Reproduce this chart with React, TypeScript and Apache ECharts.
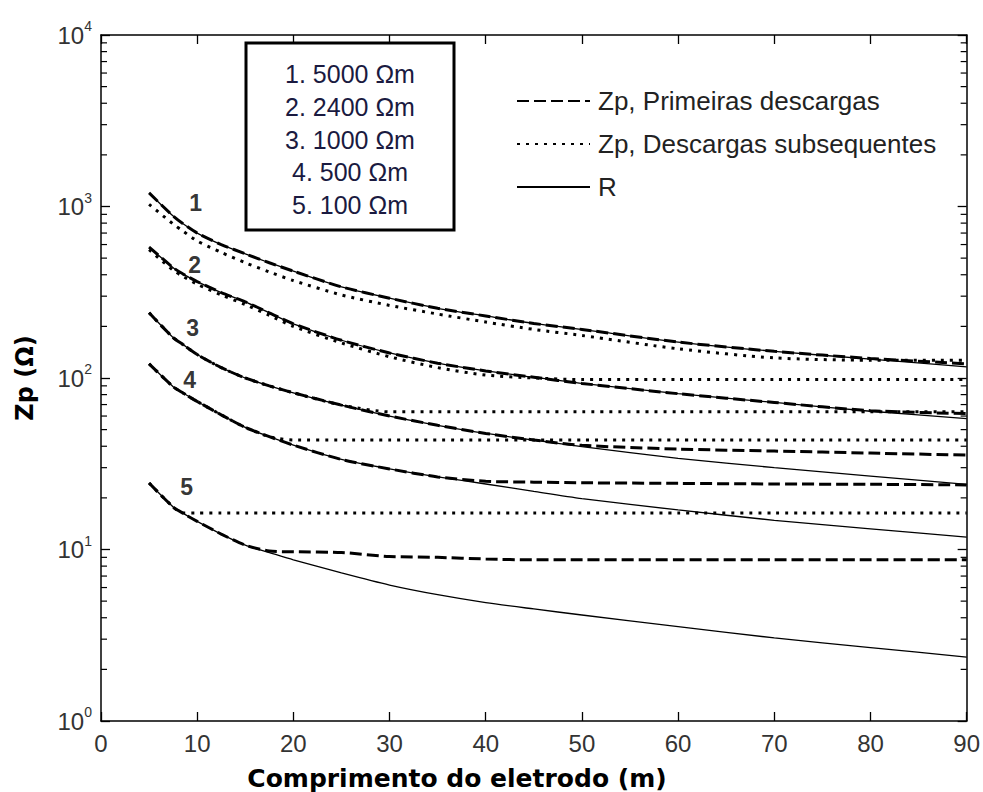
import React, { useEffect, useRef } from 'react';
import * as echarts from 'echarts';

// Electrode length (m)
const X = [5, 7.5, 8.5, 10, 12.5, 15, 17.5, 20, 25, 30, 35, 40, 45, 50, 60, 70, 80, 90];

// Curve 1: 5000 Ohm.m
const R1 = [1200, 880, 796, 700, 600, 530, 470, 420, 340, 292, 255, 230, 208, 192, 162, 143, 129, 116];
const ZF1 = [1200, 880, 796, 700, 600, 530, 470, 420, 340, 292, 255, 230, 208, 192, 162, 143, 130, 121];
const ZS1 = [1030, 790, 720, 630, 540, 470, 415, 370, 305, 265, 236, 212, 192, 177, 148, 131, 127, 127];
// Curve 2: 2400 Ohm.m
const R2 = [580, 440, 405, 365, 315, 278, 240, 207, 166, 140, 122, 110, 101, 93, 81, 72, 64, 58];
const ZF2 = [580, 440, 405, 365, 315, 278, 240, 207, 166, 140, 122, 110, 101, 93, 81, 72, 64.5, 62];
const ZS2 = [560, 425, 392, 352, 305, 268, 232, 200, 160, 133, 115, 104, 100, 98, 98, 98, 98, 98];
// Curve 3: 1000 Ohm.m
const R3 = [240, 172, 157, 137, 115, 100, 90, 82, 69.5, 60, 53, 47.5, 43.5, 39.8, 34, 30, 26.8, 24];
const ZF3 = [240, 172, 157, 137, 115, 100, 90, 82, 69.5, 60, 53, 47.5, 43.5, 40.5, 38.5, 37.5, 36.5, 35.5];
const ZS3 = [240, 172, 157, 137, 115, 100, 90, 82, 69.5, 63.5, 63.5, 63.5, 63.5, 63.5, 63.5, 63.5, 63.5, 63.5];
// Curve 4: 500 Ohm.m
const R4 = [121, 89, 82, 73, 61, 51.5, 45.5, 40.6, 33.5, 29.5, 26.5, 24.1, 21.8, 19.8, 17, 14.8, 13.2, 11.8];
const ZF4 = [121, 89, 82, 73, 61, 51.5, 45.5, 40.6, 33.5, 29.5, 26.5, 25, 24.7, 24.5, 24.3, 24.1, 24, 23.8];
const ZS4 = [121, 89, 82, 73, 61, 51.5, 45.5, 43.5, 43.5, 43.5, 43.5, 43.5, 43.5, 43.5, 43.5, 43.5, 43.5, 43.5];
// Curve 5: 100 Ohm.m
const R5 = [24.4, 17.7, 16.3, 14.6, 12.3, 10.6, 9.6, 8.7, 7.3, 6.2, 5.45, 4.9, 4.5, 4.15, 3.55, 3.05, 2.68, 2.36];
const ZF5 = [24.4, 17.7, 16.3, 14.6, 12.3, 10.6, 9.8, 9.7, 9.6, 9.1, 9.0, 8.8, 8.7, 8.7, 8.7, 8.7, 8.7, 8.7];
const ZS5 = [24.4, 17.7, 16.3, 16.3, 16.3, 16.3, 16.3, 16.3, 16.3, 16.3, 16.3, 16.3, 16.3, 16.3, 16.3, 16.3, 16.3, 16.3];

const NAME_FIRST = 'Zp, Primeiras descargas';
const NAME_SUB = 'Zp, Descargas subsequentes';
const NAME_R = 'R';

const RESISTIVITY_LABELS = ['1. 5000 Ωm', '2. 2400 Ωm', '3. 1000 Ωm', '4. 500 Ωm', '5. 100 Ωm'];

// Curve number annotations (data coords)
const CURVE_NUMS = ['1', '2', '3', '4', '5'];
const CURVE_NUM_X = [9.85, 9.74, 9.53, 9.22, 8.9];
const CURVE_NUM_Y = [1047, 456, 196, 97, 23.1];

const MINOR_MANTISSA = [2, 3, 4, 5, 6, 7, 8, 9];
const DECADES = [1, 10, 100, 1000];

export default function App() {
  const ref = useRef<HTMLDivElement>(null);
  useEffect(() => {
    const chart = echarts.init(ref.current!, null, { renderer: 'svg' });
    const solid = { color: '#000', width: 1.3, type: 'solid' };
    const dashed = { color: '#000', width: 3, type: [12, 5] };
    const dotted = { color: '#000', width: 3, type: [3, 6] };
    const mk = (name: string, data: number[], style: any) => ({
      type: 'line',
      name,
      data: X.map((x, i) => [x, data[i]]),
      symbol: 'none',
      showSymbol: false,
      smooth: 0.25,
      lineStyle: style,
      itemStyle: { color: '#000' },
      silent: true,
      xAxisIndex: 0,
      yAxisIndex: 0,
    });
    const minor: number[][] = [];
    DECADES.forEach((d) => MINOR_MANTISSA.forEach((m) => minor.push([0, m * d])));

    const font = 'Liberation Sans';
    const option: any = {
      animation: false,
      backgroundColor: '#fff',
      grid: { left: 101, right: 15, top: 35, bottom: 71, containLabel: false },
      xAxis: [
        {
          type: 'value', min: 0, max: 90, interval: 10, position: 'bottom',
          axisLine: { show: true, onZero: false, lineStyle: { color: '#000', width: 1.5 } },
          axisTick: { show: true, inside: true, length: 9, lineStyle: { color: '#000', width: 1.3 } },
          axisLabel: { show: true, margin: 10, fontSize: 24, fontFamily: font, color: '#333' },
          splitLine: { show: false },
        },
        {
          type: 'value', min: 0, max: 90, interval: 10, position: 'top',
          axisLine: { show: true, onZero: false, lineStyle: { color: '#000', width: 1.5 } },
          axisTick: { show: true, inside: true, length: 9, lineStyle: { color: '#000', width: 1.3 } },
          axisLabel: { show: false },
          splitLine: { show: false },
        },
      ],
      yAxis: [
        {
          type: 'log', logBase: 10, min: 1, max: 10000, position: 'left',
          name: 'Zp (Ω)', nameLocation: 'middle', nameGap: 64,
          nameTextStyle: { fontSize: 24, fontWeight: 'bold', fontFamily: 'DejaVu Sans', color: '#000' },
          axisLine: { show: true, onZero: false, lineStyle: { color: '#000', width: 1.5 } },
          axisTick: { show: true, inside: true, length: 9, lineStyle: { color: '#000', width: 1.3 } },
          axisLabel: {
            show: true, margin: 9,
            formatter: (v: number) => `{a|10}{b|${Math.round(Math.log10(v))}}`,
            rich: {
              a: { fontSize: 24, fontFamily: font, color: '#333', lineHeight: 32, verticalAlign: 'middle' },
              b: { fontSize: 14, fontFamily: font, color: '#333', lineHeight: 14, verticalAlign: 'top' },
            },
          },
          splitLine: { show: false },
        },
        {
          type: 'log', logBase: 10, min: 1, max: 10000, position: 'right',
          axisLine: { show: true, onZero: false, lineStyle: { color: '#000', width: 1.5 } },
          axisTick: { show: true, inside: true, length: 9, lineStyle: { color: '#000', width: 1.3 } },
          axisLabel: { show: false },
          splitLine: { show: false },
        },
      ],
      legend: {
        data: [NAME_FIRST, NAME_SUB, NAME_R],
        orient: 'vertical', left: 511, top: 83,
        itemWidth: 73, itemHeight: 14, itemGap: 17,
        selectedMode: false,
        itemStyle: { opacity: 0 },
        textStyle: { fontSize: 26, fontFamily: font, color: '#222', lineHeight: 26, padding: [0, 0, 0, 3] },
      },
      series: [
        mk(NAME_R, R1, solid), mk(NAME_R, R2, solid), mk(NAME_R, R3, solid), mk(NAME_R, R4, solid), mk(NAME_R, R5, solid),
        mk(NAME_FIRST, ZF1, dashed), mk(NAME_FIRST, ZF2, dashed), mk(NAME_FIRST, ZF3, dashed), mk(NAME_FIRST, ZF4, dashed), mk(NAME_FIRST, ZF5, dashed),
        mk(NAME_SUB, ZS1, dotted), mk(NAME_SUB, ZS2, dotted), mk(NAME_SUB, ZS3, dotted), mk(NAME_SUB, ZS4, dotted), mk(NAME_SUB, ZS5, dotted),
        {
          type: 'custom', name: 'minorTicks', coordinateSystem: 'cartesian2d', xAxisIndex: 0, yAxisIndex: 0,
          data: minor, silent: true, clip: false,
          renderItem: (params: any, api: any) => {
            const v = api.value(1);
            const l = api.coord([0, v]);
            const r = api.coord([90, v]);
            return {
              type: 'group',
              children: [
                { type: 'line', shape: { x1: l[0], y1: l[1], x2: l[0] + 6, y2: l[1] }, style: { stroke: '#000', lineWidth: 1.2 } },
                { type: 'line', shape: { x1: r[0] - 6, y1: r[1], x2: r[0], y2: r[1] }, style: { stroke: '#000', lineWidth: 1.2 } },
              ],
            };
          },
        },
        {
          type: 'scatter', name: 'curveNumbers', xAxisIndex: 0, yAxisIndex: 0, silent: true,
          symbolSize: 1, itemStyle: { color: 'rgba(0,0,0,0)' },
          data: CURVE_NUMS.map((n, i) => [CURVE_NUM_X[i], CURVE_NUM_Y[i], n]),
          label: {
            show: true, position: 'inside', formatter: (p: any) => p.data[2],
            fontSize: 23, fontWeight: 'bold', fontFamily: 'Liberation Sans', color: '#000',
          },
        },
      ],
      graphic: [
        {
          type: 'rect', shape: { x: 246, y: 43, width: 208, height: 187 },
          style: { fill: '#fff', stroke: '#000', lineWidth: 3 }, z: 10,
        },
        ...RESISTIVITY_LABELS.map((t, i) => ({
          type: 'text', x: 350, y: 74 + i * 32.8, z: 11,
          style: { text: t, fontSize: 25, fontFamily: font, fill: '#1a1a40', align: 'center', verticalAlign: 'middle' },
        })),
        {
          type: 'text', x: 457, y: 778, z: 11,
          style: { text: 'Comprimento do eletrodo (m)', fontSize: 25, fontWeight: 'bold', fontFamily: 'DejaVu Sans', fill: '#000', align: 'center', verticalAlign: 'middle' },
        },
      ],
    };
    chart.setOption(option);
    return () => chart.dispose();
  }, []);
  return <div ref={ref} style={{ position: 'fixed', left: 0, top: 0, width: 983, height: 792, background: '#fff' }} />;
}
